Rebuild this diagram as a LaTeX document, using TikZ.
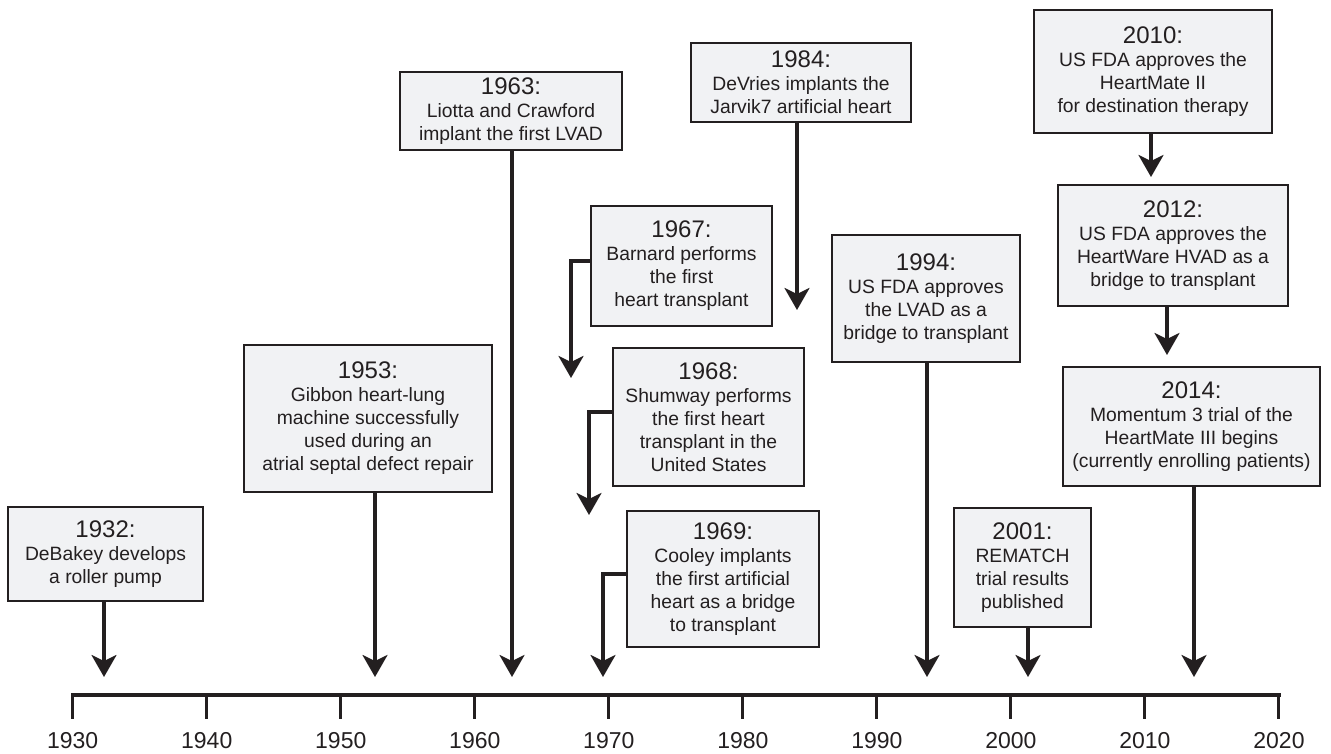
\documentclass[tikz,border=0pt]{standalone}
\usepackage{fontspec}
\setmainfont{Liberation Sans}
\usetikzlibrary{arrows.meta}
\definecolor{boxfill}{HTML}{F1F2F4}
\definecolor{ink}{HTML}{231F20}
\newcommand{\yrtxt}[1]{{\fontsize{24}{24}\selectfont #1}}
\begin{document}
\begin{tikzpicture}[x=1pt,y=-1pt,
  evbox/.style={draw=ink, line width=1.7pt, fill=boxfill, inner sep=0pt, align=center, text=ink,
                font=\fontsize{19.3}{23}\selectfont},
  arr/.style={draw=ink, line width=3.2pt, -{Stealth[length=22pt,width=25pt,inset=6pt]}},
  axisline/.style={draw=ink, line width=4pt},
  tickline/.style={draw=ink, line width=3pt},
  yearlab/.style={text=ink, inner sep=0pt, font=\fontsize{23}{23}\selectfont}]
\useasboundingbox (0,0) rectangle (1331,754);

% boxes
\node[evbox, minimum width=195pt, minimum height=94pt] (b1932) at (105.5,554) {\yrtxt{1932:}\\DeBakey develops\\a roller pump};
\node[evbox, minimum width=248pt, minimum height=147pt] (b1953) at (368,418.5) {\yrtxt{1953:}\\Gibbon heart-lung\\machine successfully\\used during an\\atrial septal defect repair};
\node[evbox, minimum width=222pt, minimum height=78pt] (b1963) at (511,111) {\yrtxt{1963:}\\Liotta and Crawford\\implant the first LVAD};
\node[evbox, minimum width=181pt, minimum height=120pt] (b1967) at (681.5,266) {\yrtxt{1967:}\\Barnard performs\\the first\\heart transplant};
\node[evbox, minimum width=191pt, minimum height=138pt] (b1968) at (708.5,417) {\yrtxt{1968:}\\Shumway performs\\the first heart\\transplant in the\\United States};
\node[evbox, minimum width=192pt, minimum height=136pt] (b1969) at (723,579) {\yrtxt{1969:}\\Cooley implants\\the first artificial\\heart as a bridge\\to transplant};
\node[evbox, minimum width=220pt, minimum height=79pt] (b1984) at (801,82.5) {\yrtxt{1984:}\\DeVries implants the\\Jarvik7 artificial heart};
\node[evbox, minimum width=188pt, minimum height=127pt] (b1994) at (926,298.5) {\yrtxt{1994:}\\US FDA approves\\the LVAD as a\\bridge to transplant};
\node[evbox, minimum width=137pt, minimum height=119pt] (b2001) at (1022.5,567.5) {\yrtxt{2001:}\\REMATCH\\trial results\\published};
\node[evbox, minimum width=238pt, minimum height=123pt] (b2010) at (1153,71.5) {\yrtxt{2010:}\\US FDA approves the\\HeartMate II\\for destination therapy};
\node[evbox, minimum width=230pt, minimum height=121pt] (b2012) at (1173,245.5) {\yrtxt{2012:}\\US FDA approves the\\HeartWare HVAD as a\\bridge to transplant};
\node[evbox, minimum width=257pt, minimum height=119pt] (b2014) at (1191.5,426.5) {\yrtxt{2014:}\\Momentum 3 trial of the\\HeartMate III begins\\(currently enrolling patients)};

% arrow tips
\coordinate (t1932) at (104,677);
\coordinate (t1953) at (375,677);
\coordinate (t1963) at (512,677);
\coordinate (t1967) at (571,378);
\coordinate (t1968) at (589,515);
\coordinate (t1969) at (603,677);
\coordinate (t1984) at (797,310);
\coordinate (t1994) at (927,677);
\coordinate (t2001) at (1028,677);
\coordinate (t2010) at (1151,177);
\coordinate (t2012) at (1167,355);
\coordinate (t2014) at (1194,677);

% arrows
\draw[arr] (b1932.south -| t1932) -- (t1932);
\draw[arr] (b1953.south -| t1953) -- (t1953);
\draw[arr] (b1963.south -| t1963) -- (t1963);
\draw[arr] ([yshift=5pt]b1967.west) -| (t1967);
\draw[arr] ([yshift=5pt]b1968.west) -| (t1968);
\draw[arr] ([yshift=5pt]b1969.west) -| (t1969);
\draw[arr] (b1984.south -| t1984) -- (t1984);
\draw[arr] (b1994.south -| t1994) -- (t1994);
\draw[arr] (b2001.south -| t2001) -- (t2001);
\draw[arr] (b2010.south -| t2010) -- (t2010);
\draw[arr] (b2012.south -| t2012) -- (t2012);
\draw[arr] (b2014.south -| t2014) -- (t2014);

% axis
\coordinate (ax0) at (72.7,695);
\coordinate (ax1) at (1279,695);
\draw[axisline] ([xshift=-1.5pt]ax0) -- ([xshift=1.5pt]ax1);
\foreach \i in {0,...,9}{
  \pgfmathsetmacro{\xx}{72.7+\i*134.03}
  \pgfmathtruncatemacro{\yy}{1930+10*\i}
  \coordinate (tk\i) at (\xx,695);
  \coordinate (tb\i) at (\xx,719);
  \draw[tickline] (tk\i) -- (tb\i);
  \node[yearlab] (lab\i) at (\xx,741) {\yy};
}
\end{tikzpicture}
\end{document}
